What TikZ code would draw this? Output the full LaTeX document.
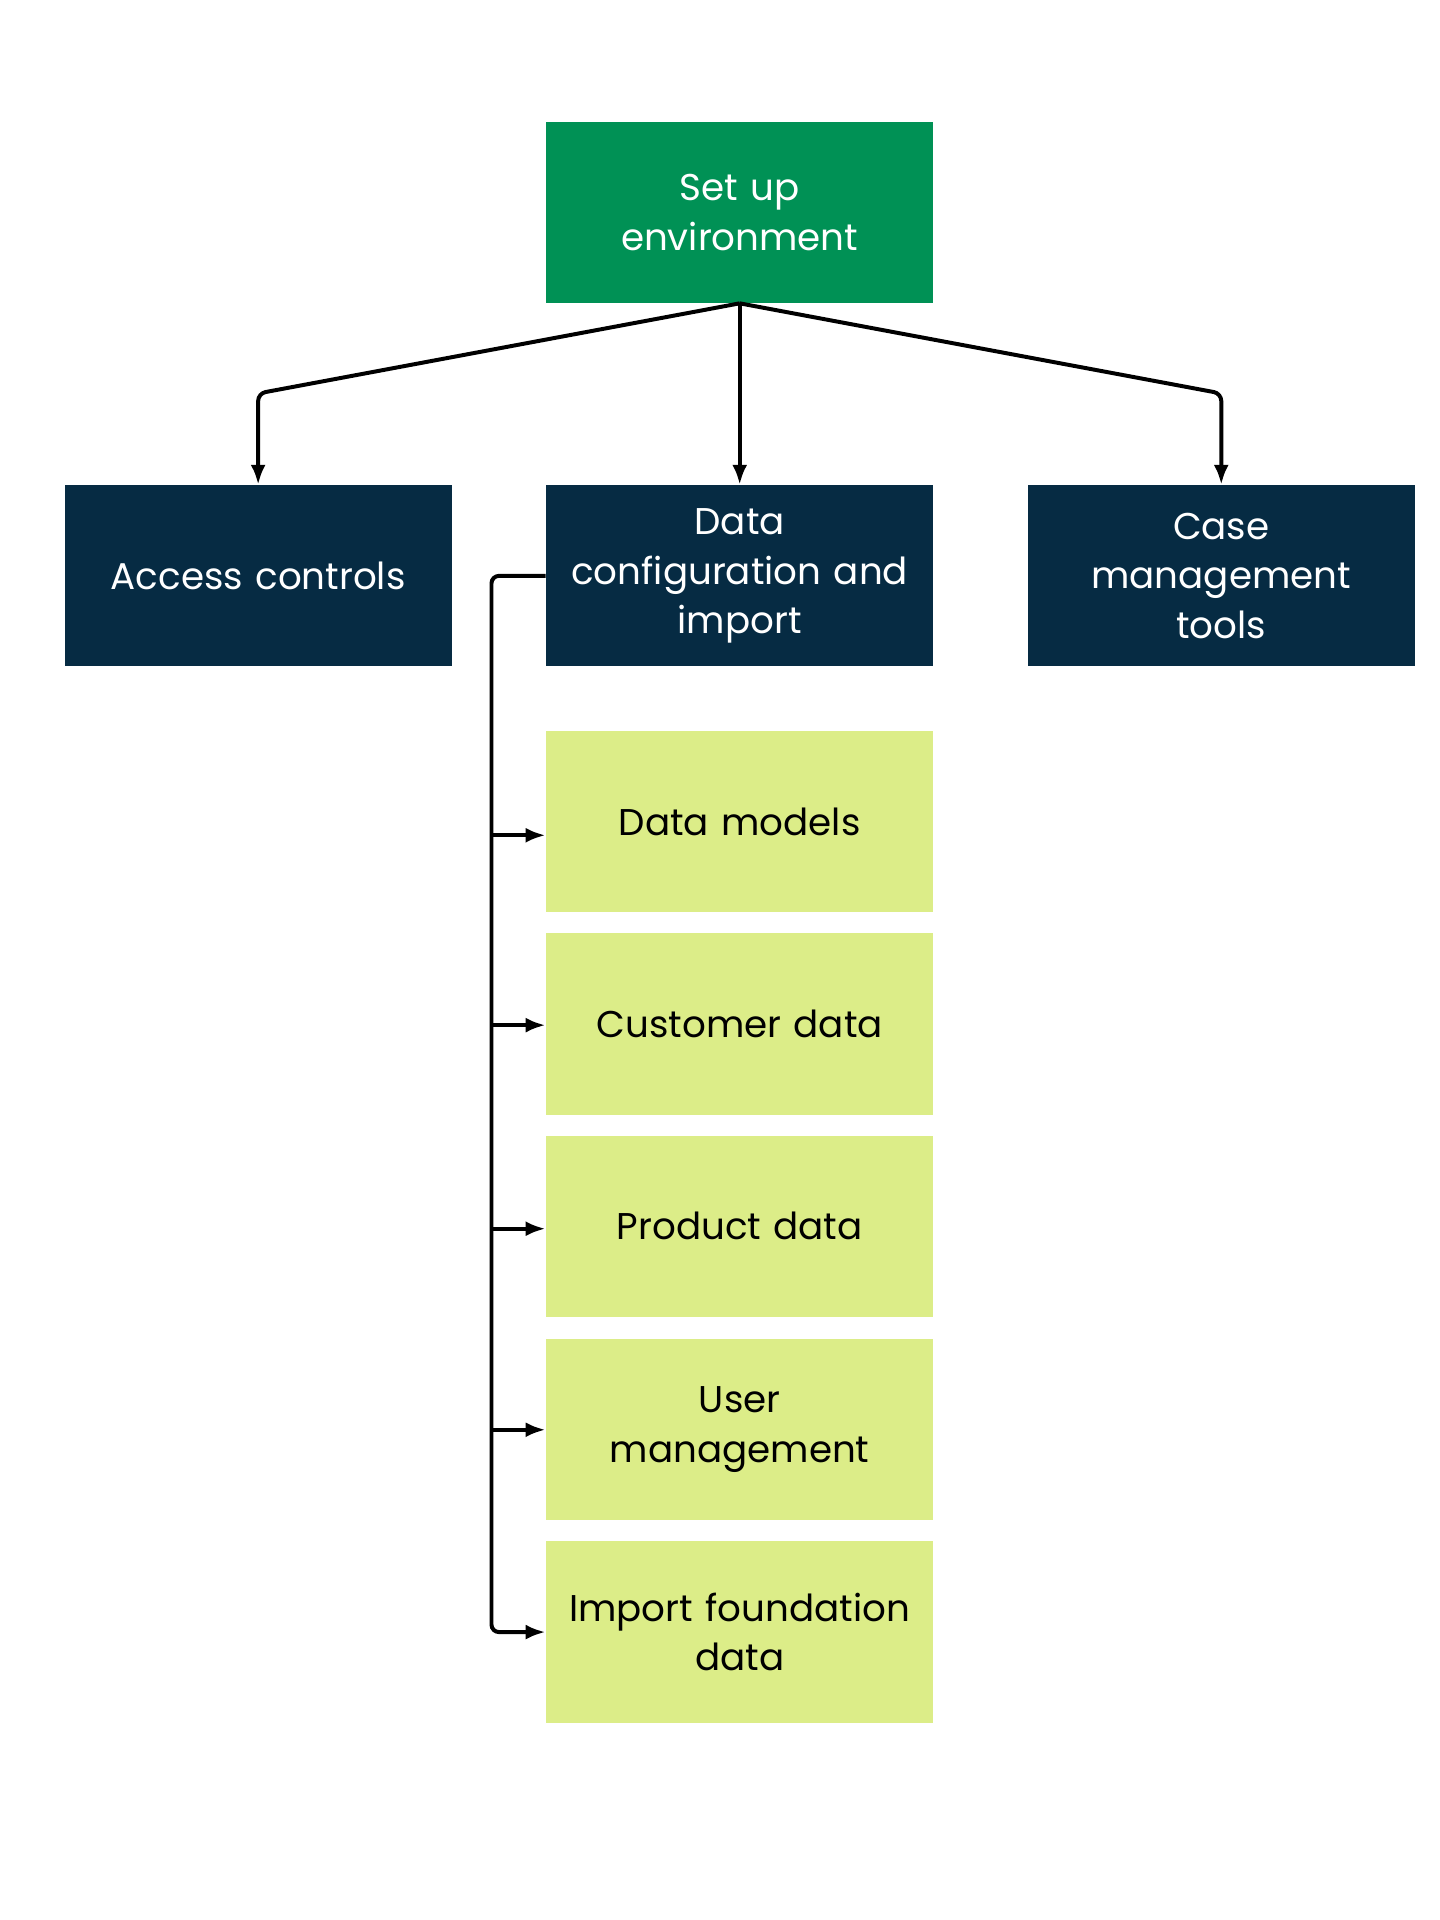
\documentclass[tikz,border=0pt]{standalone}
\usepackage{fontspec}
\setmainfont{Poppins}
\usetikzlibrary{arrows.meta}
\definecolor{topgreen}{HTML}{009155}
\definecolor{navy}{HTML}{062B43}
\definecolor{lime}{HTML}{DCED88}
\tikzset{
  box/.style={minimum width=156pt,minimum height=73pt,inner sep=2pt,align=center,text width=150pt,font=\fontsize{15}{20}\selectfont},
  topbox/.style={box,fill=topgreen,text=white},
  midbox/.style={box,fill=navy,text=white},
  subbox/.style={box,fill=lime,text=black},
  link/.style={line width=1.6pt,rounded corners=3pt,-{Latex[length=8pt,width=6pt]}}
}
\begin{document}
\begin{tikzpicture}[x=0.5pt,y=0.5pt,yscale=-1]
    \useasboundingbox (0,0) rectangle (1160,1547);
    \node [topbox] (setup) at (596,171) {Set up\\environment};
    \node [midbox] (access) at (208,464) {Access controls};
    \node [midbox] (dataconf) at (596,464) {Data\\configuration and\\import};
    \node [midbox] (casemgmt) at (984,464) {Case\\management\\tools};
    \node [subbox] (models) at (596,662) {Data models};
    \node [subbox] (customer) at (596,825) {Customer data};
    \node [subbox] (product) at (596,988) {Product data};
    \node [subbox] (users) at (596,1152) {User\\management};
    \node [subbox] (foundation) at (596,1315) {Import foundation\\data};
    \coordinate (bus) at (596,317);
    \coordinate (rail) at (396,464);
    \draw [link] (setup.south) -- (access.north |- bus) -- (access.north);
    \draw [link] (setup.south) -- (dataconf.north);
    \draw [link] (setup.south) -- (casemgmt.north |- bus) -- (casemgmt.north);
    \draw [link] (dataconf.west) -- (rail) -- (rail |- foundation.west) -- (foundation.west);
    \foreach \n/\y in {models/673,customer/826,product/990,users/1152}
        \draw [link,rounded corners=0pt] (396,\y) -- (\n.west |- 0,\y);
\end{tikzpicture}
\end{document}
